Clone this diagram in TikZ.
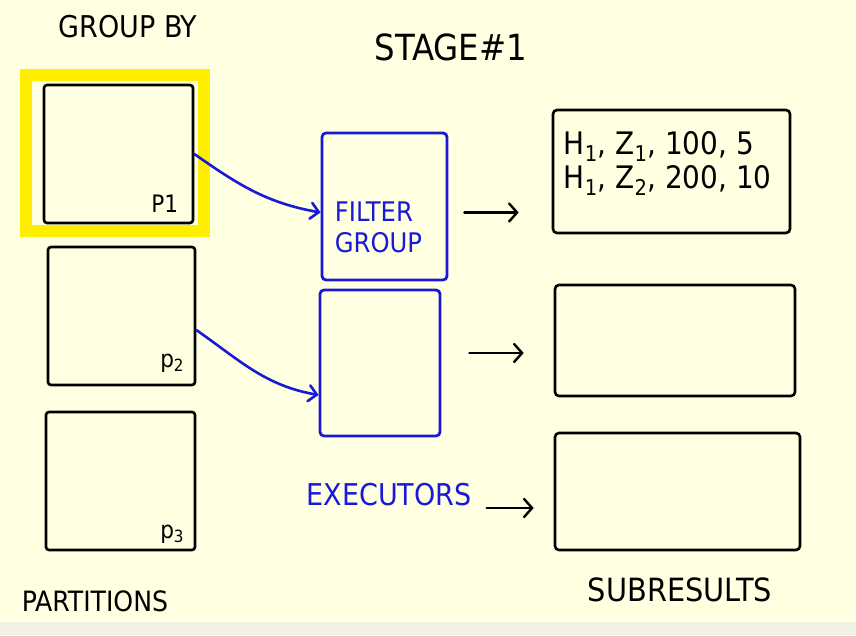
\documentclass[tikz,border=0pt]{standalone}
\usepackage{fontspec}
\newfontfamily\handfont{DejaVu Sans Condensed}
\usetikzlibrary{arrows.meta,positioning}
\definecolor{paper}{RGB}{255,255,226}
\definecolor{paperedge}{RGB}{242,242,228}
\definecolor{marker}{RGB}{255,238,0}
\definecolor{pen}{RGB}{25,25,215}

\begin{document}
\begin{tikzpicture}[
x=1pt, y=1pt,
partbox/.style={draw, line width=2.6pt, rounded corners=3pt, inner sep=0pt, minimum width=149pt, minimum height=138pt},
execbox/.style={draw=pen, line width=2.8pt, rounded corners=4pt, inner sep=0pt},
resbox/.style={draw, line width=2.6pt, rounded corners=4pt, inner sep=0pt},
handtext/.style={font=\handfont\fontsize{30}{36}\selectfont, inner sep=0pt},
bluetext/.style={handtext, text=pen},
plabel/.style={font=\handfont\fontsize{24}{26}\selectfont, inner sep=0pt},
penarrow/.style={draw=pen, line width=2.6pt, line cap=round, -{Straight Barb[length=8pt,width=16pt,line cap=round]}},
sarrow/.style={line width=2.4pt, line cap=round, -{Straight Barb[length=8pt,width=18pt,line cap=round]}}
]
% paper
\fill[paper] (0,0) rectangle (856,635);
\fill[paperedge] (0,0) rectangle (856,13);
\useasboundingbox (0,0) rectangle (856,635);

% titles
\node[handtext] (groupby) at (128,608) {GROUP BY};
\node[handtext, font=\handfont\fontsize{36}{40}\selectfont] (stage) at (451,588) {STAGE\#1};

% partitions
\node[draw=marker, line width=12pt, inner sep=0pt, minimum width=178pt, minimum height=156pt] (hilite) at (115,482) {};
\node[partbox] (p1) at (118.5,481) {};
\node[partbox, minimum width=147pt] (p2) at (121.5,319) {};
\node[partbox] (p3) at (120.5,154) {};
\node[plabel, above left=12pt and 16pt of p1.south east] (p1lab) {P1};
\node[plabel, above left=14pt and 12pt of p2.south east] (p2lab) {p\textsubscript{2}};
\node[plabel, above left=8pt and 12pt of p3.south east] (p3lab) {p\textsubscript{3}};
\node[handtext, font=\handfont\fontsize{28}{32}\selectfont] (partitions) at (95,34) {PARTITIONS};

% executors
\node[execbox, minimum width=125pt, minimum height=147pt] (filter) at (384.5,428.5) {};
\node[bluetext, font=\handfont\fontsize{27}{31}\selectfont, align=left] (filtertext) at ([shift={(-6pt,-21pt)}]filter.center) {FILTER\\GROUP};
\node[execbox, minimum width=120pt, minimum height=146pt] (exec2) at (380,272) {};
\node[bluetext] (executors) at (389,140) {EXECUTORS};

% subresults
\node[resbox, minimum width=237pt, minimum height=123pt] (res1) at (671.5,463.5) {};
\node[handtext, font=\handfont\fontsize{31}{34}\selectfont, align=left, anchor=west] (res1text) at ([shift={(12pt,8pt)}]res1.west) {H\textsubscript{1}, Z\textsubscript{1}, 100, 5\\H\textsubscript{1}, Z\textsubscript{2}, 200, 10};
\node[resbox, minimum width=240pt, minimum height=111pt] (res2) at (675,294.5) {};
\node[resbox, minimum width=245pt, minimum height=117pt] (res3) at (677.5,143.5) {};
\node[handtext, font=\handfont\fontsize{32}{36}\selectfont] (subresults) at (680,45) {SUBRESULTS};

% connectors
\draw[penarrow] (p1.east) to[out=-35, in=170] ([yshift=-6pt]filter.west);
\draw[penarrow] ([yshift=-14pt]p2.east) to[out=-35, in=170] ([yshift=-32pt]exec2.west);
\draw[sarrow, shorten <=16pt, shorten >=33pt] ([yshift=-6pt]filter.east) -- ([yshift=-6pt]filter.east -| res1.west);
\draw[sarrow, shorten <=28pt, shorten >=30pt] ([yshift=10pt]exec2.east) -- ([yshift=10pt]exec2.east -| res2.west);
\draw[sarrow, shorten <=15pt, shorten >=20pt] ([yshift=-13pt]executors.east) -- ([yshift=-13pt]executors.east -| res3.west);
\end{tikzpicture}
\end{document}
